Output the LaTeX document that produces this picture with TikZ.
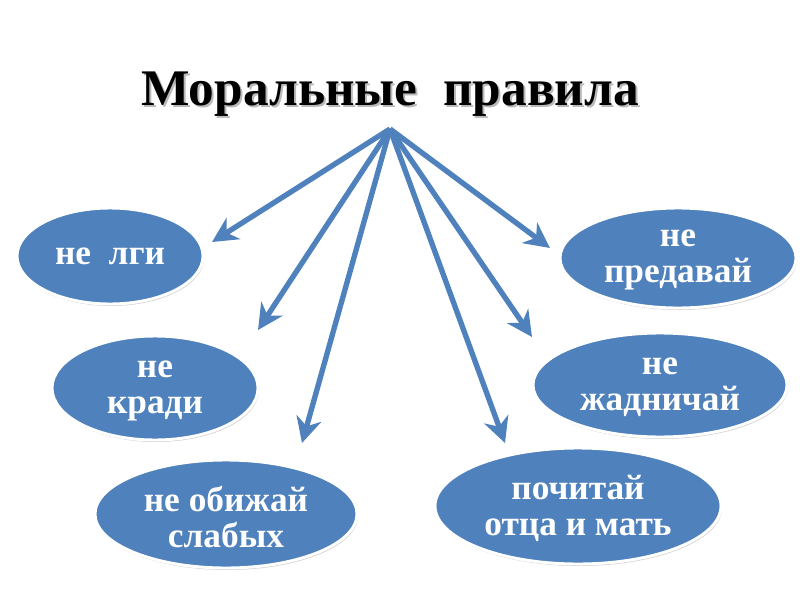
\documentclass[tikz,border=0pt]{standalone}
\usepackage{fontspec}
\setmainfont{Liberation Serif}
\usetikzlibrary{arrows.meta,shapes.geometric,shadows}
\definecolor{oblue}{HTML}{4F81BD}
\tikzset{
  ell/.style={ellipse, inner sep=0pt, fill=oblue, draw=white, line width=2.2pt,
    drop shadow={opacity=0.35, shadow xshift=0.8pt, shadow yshift=-1.5pt}},
  etxt/.style={text=white, font=\fontsize{26.5}{27}\selectfont\bfseries, align=center, inner sep=0pt},
  arr/.style={draw=oblue, line width=4pt, -{Stealth[length=19pt, width=19pt, inset=6pt]}}
}
\begin{document}
\begin{tikzpicture}[x=0.75pt, y=-0.75pt]
\useasboundingbox (0,0) rectangle (800,600);
\fill[white] (0,0) rectangle (800,600);
% title
\node[text=black!45, opacity=0.6, font=\fontsize{38.5}{40}\selectfont\bfseries] (titleshadow) at (392,96) {Моральные\ \ правила};
\node[font=\fontsize{38.5}{40}\selectfont\bfseries] (title) at (390,94) {Моральные\ \ правила};
% ellipses
\node[ell, minimum width=139.5pt, minimum height=72pt] (lgi) at (110,256) {};
\node[ell, minimum width=154.5pt, minimum height=78pt] (kradi) at (155,388) {};
\node[ell, minimum width=196.5pt, minimum height=81pt] (obizh) at (226,514) {};
\node[ell, minimum width=177pt, minimum height=75pt] (pred) at (678,258) {};
\node[ell, minimum width=190.5pt, minimum height=78pt] (zhad) at (660,385) {};
\node[ell, minimum width=214.5pt, minimum height=87pt] (poch) at (578,506) {};
% texts
\node[etxt] (lgi-t) at (lgi) {не\ \ лги};
\node[etxt] (kradi-t) at ([yshift=-2pt]kradi) {не\\ кради};
\node[etxt] (obizh-t) at ([yshift=-2pt]obizh) {не обижай\\ слабых};
\node[etxt] (pred-t) at ([yshift=-1.5pt]pred) {не\\ предавай};
\node[etxt] (zhad-t) at ([yshift=-1.5pt]zhad) {не\\ жадничай};
\node[etxt] (poch-t) at ([yshift=-2pt]poch) {почитай\\ отца и мать};
% arrows
\coordinate (o) at (390,129);
\coordinate (t1) at (212,242);
\coordinate (t2) at (258,330);
\coordinate (t3) at (302,443);
\coordinate (t4) at (505,443);
\coordinate (t5) at (532,337);
\coordinate (t6) at (550,248);
\foreach \t in {t1,t2,t3,t4,t5,t6} \draw[arr] (o) -- (\t);
\end{tikzpicture}
\end{document}
